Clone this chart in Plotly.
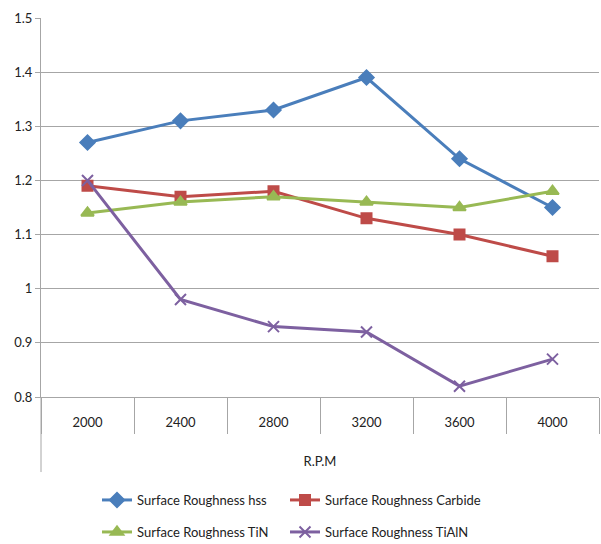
import plotly.graph_objects as go

rpm = ["2000", "2400", "2800", "3200", "3600", "4000"]
hss = [1.27, 1.31, 1.33, 1.39, 1.24, 1.15]
carbide = [1.19, 1.17, 1.18, 1.13, 1.10, 1.06]
tin = [1.14, 1.16, 1.17, 1.16, 1.15, 1.18]
tialn = [1.20, 0.98, 0.93, 0.92, 0.82, 0.87]

FONT = "Lato, Liberation Sans, Arial, sans-serif"
GRID = "#a6a6a6"
W, H = 601, 544

fig = go.Figure()
series = [
    ("Surface Roughness hss", hss, "#4A7EBB", "diamond", 11, "legend", 97, 500),
    ("Surface Roughness Carbide", carbide, "#BE4B48", "square", 10, "legend2", 285, 500),
    ("Surface Roughness TiN", tin, "#98B954", "triangle-up", 11, "legend3", 97, 532),
    ("Surface Roughness TiAlN", tialn, "#7D60A0", "x-thin-open", 11, "legend4", 285, 532),
]
legends = {}
for name, vals, col, sym, sz, lg, lx, ly in series:
    fig.add_trace(go.Scatter(
        x=rpm, y=vals, name=name, mode="lines+markers",
        line=dict(color=col, width=3),
        marker=dict(symbol=sym, size=sz, color=col, line=dict(color=col, width=2)),
        legend=lg,
    ))
    legends[lg] = dict(orientation="h", xref="container", yref="container",
                       x=lx / W, y=1 - ly / H, xanchor="left", yanchor="middle",
                       font=dict(family=FONT, size=13, color="#222222"),
                       itemwidth=30, bgcolor="rgba(0,0,0,0)")

fig.update_layout(
    width=W, height=H,
    margin=dict(l=41, r=2, t=18, b=147),
    paper_bgcolor="white", plot_bgcolor="white",
    font=dict(family=FONT, size=13, color="#222222"),
    showlegend=True,
    xaxis=dict(
        type="category", range=[-0.5, len(rpm) - 0.5],
        showgrid=False, zeroline=False,
        showline=True, linecolor=GRID, linewidth=1,
        ticks="outside", tickson="boundaries", ticklen=36, tickcolor=GRID,
        ticklabelstandoff=13,
        title=dict(text="R.P.M", standoff=28, font=dict(family=FONT, size=13)),
    ),
    yaxis=dict(
        range=[0.8, 1.5],
        showgrid=True, gridcolor=GRID, gridwidth=1,
        zeroline=False, showline=True, linecolor=GRID, linewidth=1,
        ticks="outside", ticklen=5, tickcolor=GRID,
        tickvals=[0.8, 0.9, 1.0, 1.1, 1.2, 1.3, 1.4, 1.5],
        ticktext=["0.8", "0.9", "1", "1.1", "1.2", "1.3", "1.4", "1.5"],
    ),
    shapes=[dict(type="line", xref="paper", yref="paper", x0=0, x1=0, y0=0, y1=-0.198,
                 line=dict(color=GRID, width=1))],
    **legends,
)

fig.write_html("out.html", config={"displayModeBar": False},
               post_script="document.body.style.margin='0px';")
